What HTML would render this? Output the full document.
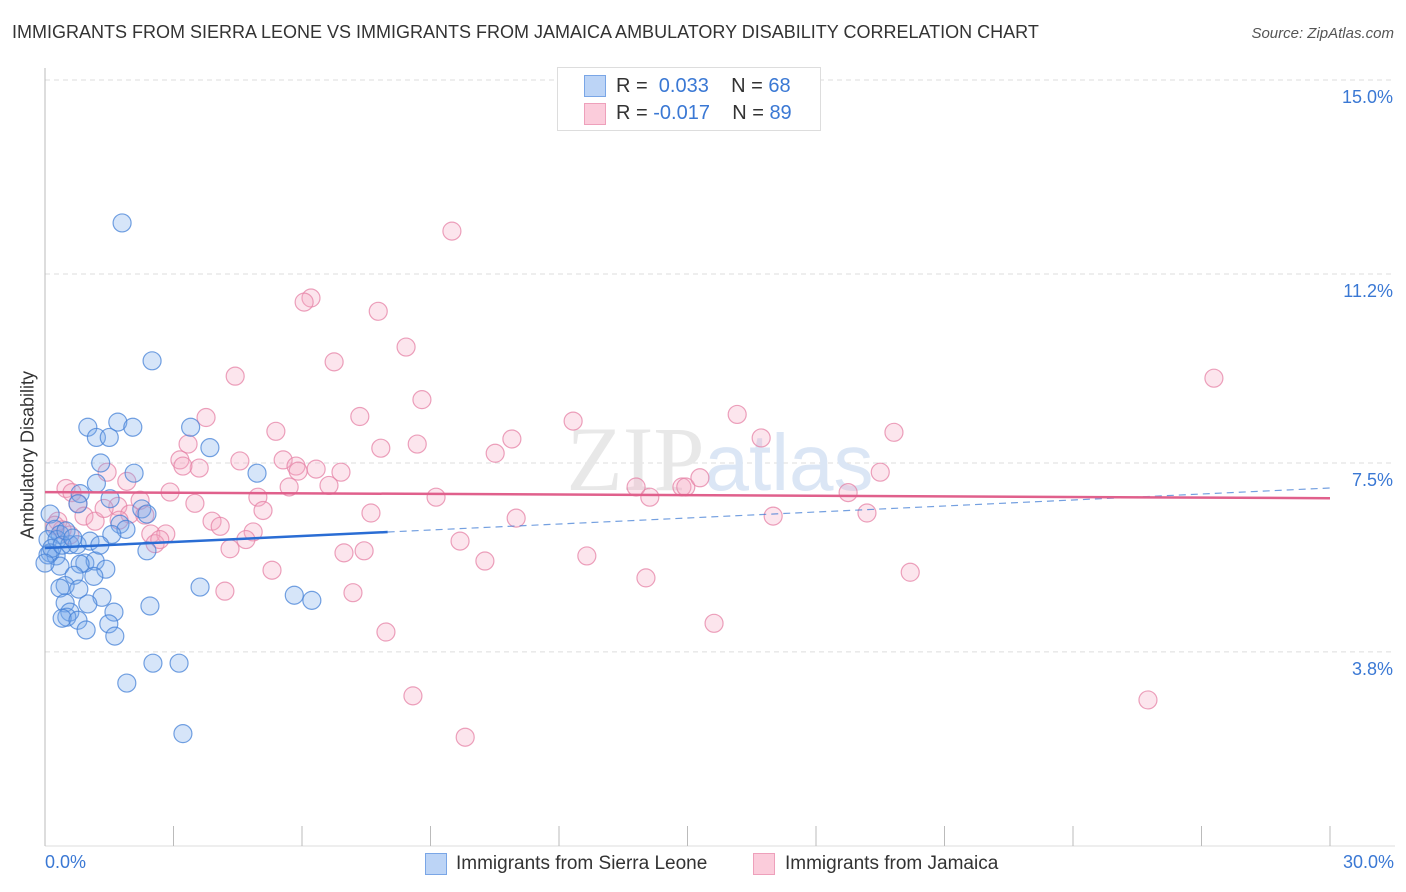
<!DOCTYPE html>
<html><head><meta charset="utf-8"><style>
body{margin:0;background:#fff;font-family:"Liberation Sans",sans-serif;}
#wrap{position:relative;width:1406px;height:892px;overflow:hidden;}
.t{position:absolute;white-space:nowrap;}
</style></head><body>
<div id="wrap">
<div class="t" style="left:12px;top:22px;font-size:18px;color:#333;">IMMIGRANTS FROM SIERRA LEONE VS IMMIGRANTS FROM JAMAICA AMBULATORY DISABILITY CORRELATION CHART</div>
<div class="t" style="right:12px;top:25px;font-size:15px;color:#555;font-style:italic;">Source: ZipAtlas.com</div>
<svg id="svg" width="1406" height="892" style="position:absolute;left:0;top:0"></svg>
</div>
<script>
const yTicks=[15.0,11.2,7.5,3.8];
const yTickLabels=["15.0%","11.2%","7.5%","3.8%"];
const xTickCount=10;
const blueX=[1.8,2.5,1.0,1.7,1.2,1.5,2.05,3.4,3.85,1.3,2.08,4.95,1.2,0.82,1.52,0.77,2.26,2.38,0.12,1.75,1.89,0.23,0.35,1.56,0.07,0.28,0.58,0.75,1.05,2.38,0.12,0.26,0.93,1.17,0.82,0.35,1.42,1.14,0.68,0.47,0.35,0.79,3.62,1.33,5.82,6.23,0.47,1.0,2.45,0.58,0.51,1.61,0.4,0.77,1.49,0.96,1.63,2.52,3.13,1.91,3.22,0.07,0.16,0.4,0.0,0.49,0.65,1.28];
const blueY=[12.2,9.5,8.2,8.3,8.0,8.0,8.2,8.2,7.8,7.5,7.3,7.3,7.1,6.9,6.8,6.7,6.6,6.5,6.5,6.3,6.2,6.2,6.1,6.1,6.0,6.0,5.9,5.9,5.97,5.78,5.74,5.68,5.54,5.58,5.52,5.48,5.42,5.28,5.3,5.1,5.05,5.03,5.07,4.87,4.91,4.81,4.76,4.74,4.70,4.58,4.48,4.58,4.46,4.42,4.35,4.23,4.11,3.58,3.58,3.19,2.2,5.70,5.83,5.89,5.54,6.17,6.03,5.89];
const pinkX=[9.5,6.21,6.05,7.78,8.43,6.75,4.44,27.29,8.8,3.76,7.35,12.33,16.16,5.39,19.82,3.34,10.9,16.72,7.84,8.69,10.51,3.15,4.55,5.56,5.86,3.6,3.22,6.33,6.91,5.91,19.5,1.45,1.91,0.49,0.63,2.92,5.7,6.63,13.8,14.87,14.96,15.29,4.97,9.13,14.12,18.75,3.5,0.77,1.70,1.98,2.33,5.09,7.61,0.91,1.17,3.9,4.09,11.0,17.0,19.19,0.30,0.40,2.47,2.82,4.86,2.57,4.69,9.69,4.32,6.98,7.45,10.27,12.65,5.3,20.2,14.03,4.2,7.19,15.62,7.96,8.59,25.75,9.81,0.23,0.58,2.22,2.68,1.73,1.38];
const pinkY=[12.04,10.73,10.65,10.47,9.77,9.48,9.20,9.16,8.74,8.39,8.41,8.32,8.45,8.12,8.10,7.87,7.97,7.99,7.79,7.87,7.69,7.56,7.54,7.56,7.44,7.40,7.44,7.38,7.32,7.34,7.32,7.32,7.14,7.0,6.92,6.93,7.03,7.06,7.03,7.03,7.03,7.21,6.83,6.83,6.83,6.92,6.71,6.71,6.65,6.50,6.48,6.57,6.52,6.46,6.36,6.36,6.26,6.42,6.46,6.52,6.36,6.19,6.11,6.11,6.15,5.92,6.0,5.97,5.82,5.74,5.78,5.58,5.68,5.40,5.36,5.25,4.99,4.96,4.36,4.19,2.94,2.86,2.13,6.28,6.09,6.77,6.0,6.38,6.61];
const blueTrend=[5.835,7.01];const blueSolidEnd=8.0;
const pinkTrend=[6.93,6.81];
const NS="http://www.w3.org/2000/svg";
const svg=document.getElementById('svg');
const X0=45,X1=1330,Y0=846,PPY=51.07;
const sx=v=>X0+(X1-X0)*v/30, sy=v=>Y0-v*PPY;
function el(tag,a,p){const e=document.createElementNS(NS,tag);for(const k in a)e.setAttribute(k,a[k]);(p||svg).appendChild(e);return e;}
// gridlines
yTicks.forEach((v,i)=>{
 const g=el('line',{x1:X0,x2:1395,y1:sy(v),y2:sy(v),stroke:'#ddd','stroke-dasharray':'5,4'});
 
 
 const t=el('text',{x:1393,y:sy(v)+23,'text-anchor':'end','font-size':18,fill:'#3a78d4'});
 t.textContent=yTickLabels[i];
 
 
});
const ax=el('line',{x1:X0,x2:X0,y1:68,y2:Y0,stroke:'#bbb'});


const bx=el('line',{x1:X0,x2:1395,y1:Y0,y2:Y0,stroke:'#ddd'});


for(let i=0;i<=xTickCount;i++){const x=sx(30*i/xTickCount);
 const tk=el('line',{x1:x,x2:x,y1:Y0-20,y2:Y0,stroke:'#bbb'});
 
 }
const wm=el('text',{x:720,y:490,'text-anchor':'middle','font-size':92,fill:'#e8e8e8','font-family':'Liberation Serif'});
wm.innerHTML='ZIP<tspan fill="#dbe6f5" font-family="Liberation Sans" font-size="80">atlas</tspan>';


function pts(xs,ys,fill,stroke,name){xs.forEach((v,i)=>{const c=el('circle',{cx:sx(v),cy:sy(ys[i]),r:9,fill:fill,stroke:stroke,'stroke-width':1.2});
 
 });}
pts(pinkX,pinkY,'rgba(245,170,195,0.3)','rgba(230,130,165,0.75)','jamaica-point');
pts(blueX,blueY,'rgba(120,170,235,0.3)','rgba(70,130,215,0.75)','sierra-leone-point');
const by=v=>blueTrend[0]+(blueTrend[1]-blueTrend[0])*v/30;
const bd=el('line',{x1:sx(blueSolidEnd),y1:sy(by(blueSolidEnd)),x2:sx(30),y2:sy(by(30)),stroke:'#3a78d4','stroke-width':1.2,'stroke-dasharray':'7,5',opacity:0.7});


const bs=el('line',{x1:sx(0),y1:sy(by(0)),x2:sx(blueSolidEnd),y2:sy(by(blueSolidEnd)),stroke:'#2a6dd4','stroke-width':2.5});


const ps=el('line',{x1:sx(0),y1:sy(pinkTrend[0]),x2:sx(30),y2:sy(pinkTrend[1]),stroke:'#e0608c','stroke-width':2.5});


</script>
<div class="t" style="left:17px;top:455px;transform:translate(-50%,-50%) rotate(-90deg);left:28px;font-size:18px;color:#333;">Ambulatory Disability</div>
<div class="t" style="left:45px;top:852px;font-size:18px;color:#3a78d4;">0.0%</div>
<div class="t" style="right:12px;top:852px;font-size:18px;color:#3a78d4;">30.0%</div>
<div style="position:absolute;left:557px;top:67px;width:262px;height:62px;border:1px solid #ddd;background:#fff;font-size:20px;">
 <div style="position:absolute;left:26px;top:7px;width:20px;height:20px;background:#bcd4f6;border:1px solid #7aa6e6;"></div>
 <div class="t" style="left:58px;top:7px;color:#333;">R = &nbsp;<span style="color:#3a78d4">0.033</span>&nbsp;&nbsp;&nbsp; N = <span style="color:#3a78d4">68</span></div>
 <div style="position:absolute;left:26px;top:35px;width:20px;height:20px;background:#fbccdb;border:1px solid #eea0bb;"></div>
 <div class="t" style="left:58px;top:34px;color:#333;">R = <span style="color:#3a78d4">-0.017</span>&nbsp;&nbsp;&nbsp; N = <span style="color:#3a78d4">89</span></div>
</div>
<div style="position:absolute;left:425px;top:853px;width:20px;height:20px;background:#bcd4f6;border:1px solid #7aa6e6;"></div>
<div class="t" style="left:456px;top:853px;font-size:19px;color:#333;">Immigrants from Sierra Leone</div>
<div style="position:absolute;left:753px;top:853px;width:20px;height:20px;background:#fbccdb;border:1px solid #eea0bb;"></div>
<div class="t" style="left:785px;top:853px;font-size:19px;color:#333;">Immigrants from Jamaica</div>
</body></html>
